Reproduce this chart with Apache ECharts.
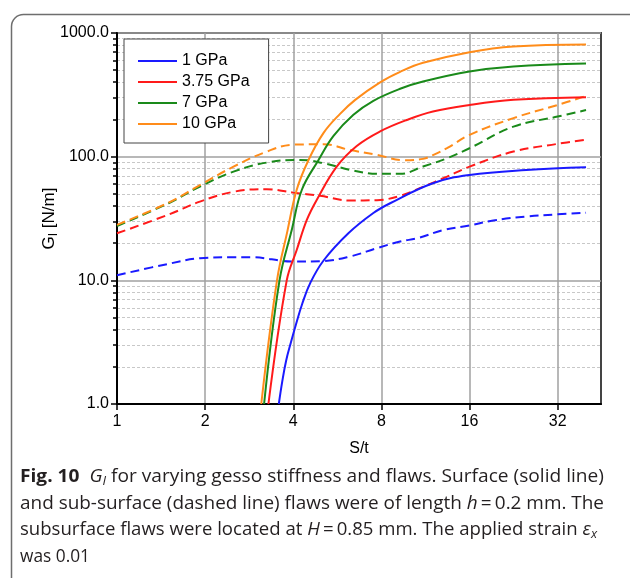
<!DOCTYPE html>
<html><head><meta charset="utf-8">
<script src="https://cdn.jsdelivr.net/npm/echarts@6/dist/echarts.min.js"></script>
<style>
html,body{margin:0;padding:0;background:#fff;}
#wrap{position:relative;width:630px;height:578px;overflow:hidden;}
#chart{position:absolute;left:0;top:0;width:630px;height:578px;}
#caption{position:absolute;left:20px;top:462px;font-family:"Open Sans",sans-serif;font-size:17.5px;line-height:26.6px;color:#231f20;}
.ln{white-space:nowrap;display:block;width:max-content;transform-origin:0 50%;}
sub{font-size:12px;vertical-align:-3px;line-height:0;}
</style></head>
<body>
<div id="wrap">
<div id="chart"></div>
<div id="caption">
<div class="ln" data-w="584"><b>Fig. 10</b>&nbsp; <i>G</i><sub><i>I</i></sub> for varying gesso stiffness and flaws. Surface (solid line)</div>
<div class="ln" data-w="584">and sub-surface (dashed line) flaws were of length <i>h</i>&#8201;=&#8201;0.2 mm. The</div>
<div class="ln" data-w="577">subsurface flaws were located at <i>H</i>&#8201;=&#8201;0.85 mm. The applied strain <i>ε</i><sub><i>x</i></sub></div>
<div class="ln" data-w="70">was 0.01</div>
</div>
</div>
<script>
// ---- data (S/t , G_I in N/m) ----
const seriesNames = ['1 GPa', '3.75 GPa', '7 GPa', '10 GPa'];
const seriesColors = ['#1a1aff', '#ff1a1a', '#1a8a1a', '#ff8c1a'];

// surface flaws (solid)
const surf1 = [[3.57,1],[3.67,1.53],[3.78,2.23],[3.93,3.17],[4.09,4.44],[4.29,6.44],[4.57,9.5],[5.07,14.4],[6.17,24],[7.51,35],[8.57,42],[12,61],[16,71],[25,78],[40,82]];
const surf375 = [[3.29,1],[3.8,10],[4.11,17.6],[4.45,30.8],[4.81,44.7],[5.63,83],[6.59,122],[7.92,160],[9.77,198],[12,232],[16,262],[22.6,288],[40,303]];
const surf7 = [[3.18,1],[3.59,10],[3.96,26],[4.28,54],[4.88,94],[5.49,147],[6.42,218],[7.51,283],[9.27,354],[11.1,405],[16,488],[22.6,536],[40,567]];
const surf10 = [[3.11,1],[3.52,10],[3.82,25],[4.11,54],[4.51,94],[5.07,155],[5.78,222],[6.51,288],[7.92,399],[9.27,485],[11.1,574],[16,700],[22.6,778],[40,807]];

// sub-surface flaws (dashed)
const sub1 = [[1,11],[1.5,13.6],[1.92,15.1],[2.53,15.4],[2.85,15.4],[4,14.2],[5,14.3],[6.26,15.6],[7.72,18.2],[9.27,20.6],[10.7,22],[13,25.5],[16,27.8],[19.3,30.5],[25,32.8],[32,34.2],[40,35.2]];
const sub375 = [[1,24],[1.5,34],[1.92,43.3],[2.5,52],[3.25,54.6],[4,51.2],[4.94,48.2],[6.26,44.2],[7.72,44.5],[9.27,48.2],[11.1,57],[13.4,69],[16,83],[22.6,110],[32,127],[40,137]];
const sub7 = [[1,27.5],[1.5,42],[1.92,57.3],[2.5,75.7],[3.25,89.6],[4.22,94.2],[5.07,88.6],[6.26,78.2],[7.72,72.6],[9.27,72.6],[11.1,83.2],[13.4,97],[16,117],[22.6,175],[32,211],[40,238]];
const sub10 = [[1,28.1],[1.5,42.5],[1.92,59],[2.5,83],[3.25,110],[4,125],[5.07,126],[6.26,113],[7.72,103.5],[9.59,93.5],[11.1,96],[12,103],[13.4,117],[16,150],[22.6,205],[32,262],[40,310]];

const surfData = [surf1, surf375, surf7, surf10];
const subData = [sub1, sub375, sub7, sub10];

// ticks
const xTicks = [1, 2, 4, 8, 16, 32];
const yMinorTicks = [2,3,4,5,6,7,8,9,20,30,40,50,60,70,80,90,200,300,400,500,600,700,800,900];

const FONT = '"Liberation Sans", Arial, sans-serif';
const chart = echarts.init(document.getElementById('chart'));

const series = [];
surfData.forEach((d, i) => series.push({
  name: seriesNames[i], type: 'line', data: d, showSymbol: false, symbol: 'none',
  smooth: 0.4, xAxisIndex: 0, yAxisIndex: 0,
  lineStyle: { color: seriesColors[i], width: 2 }, itemStyle: { color: seriesColors[i] },
  z: 3
}));
subData.forEach((d, i) => series.push({
  name: seriesNames[i] + ' sub', type: 'line', data: d, showSymbol: false, symbol: 'none',
  smooth: 0.4, xAxisIndex: 0, yAxisIndex: 0,
  lineStyle: { color: seriesColors[i], width: 2, type: [9, 5] }, itemStyle: { color: seriesColors[i] },
  z: 2
}));

chart.setOption({
  animation: false,
  backgroundColor: '#fff',
  textStyle: { fontFamily: FONT },
  graphic: [{
    type: 'rect', left: 9, top: 12, z: 0,
    shape: { width: 640, height: 590, r: 12 },
    style: { fill: 'none', stroke: '#6e6e6e', lineWidth: 1.5 }
  }],
  grid: { left: 117, top: 33, right: 29, bottom: 174, show: true, borderColor: '#444', borderWidth: 2, backgroundColor: 'transparent' },
  legend: {
    data: seriesNames, orient: 'vertical', left: 124, top: 39,
    icon: 'rect', itemWidth: 39, itemHeight: 2, itemGap: 5,
    padding: [14, 19, 11, 14], borderColor: '#444', borderWidth: 1, backgroundColor: '#fff',
    selectedMode: false,
    textStyle: { fontSize: 16, fontFamily: FONT, color: '#000' }
  },
  xAxis: {
    type: 'log', logBase: 2, min: 1, max: 45,
    axisLine: { lineStyle: { color: '#000', width: 2 } },
    axisTick: { customValues: xTicks, length: 6, lineStyle: { color: '#000', width: 1.5 } },
    axisLabel: { customValues: xTicks, fontSize: 16, color: '#000', fontFamily: FONT, margin: 10,
      formatter: v => String(Math.round(v)) },
    splitLine: { show: true, lineStyle: { color: '#a0a0a0', width: 1.5 } },
    name: 'S/t', nameLocation: 'middle', nameGap: 37, nameMoveOverlap: false,
    nameTextStyle: { fontSize: 16, color: '#000', fontFamily: FONT }
  },
  yAxis: [{
    type: 'log', logBase: 10, min: 1, max: 1000,
    axisLine: { lineStyle: { color: '#000', width: 2 } },
    axisTick: { length: 6, lineStyle: { color: '#000', width: 1.5 } },
    axisLabel: { fontSize: 16, color: '#000', fontFamily: FONT, margin: 8,
      formatter: v => Number(v).toFixed(1) },
    splitLine: { show: true, lineStyle: { color: '#a0a0a0', width: 1.5 } },
    name: '{g|G}{s|I}{g| [N/m]}', nameLocation: 'middle', nameGap: 57, nameRotate: 90, nameMoveOverlap: false,
    nameTextStyle: { fontSize: 17, color: '#000', fontFamily: FONT,
      rich: { g: { fontSize: 17, lineHeight: 22, verticalAlign: 'middle', fontFamily: FONT, color: '#000' },
              s: { fontSize: 12, lineHeight: 12, verticalAlign: 'bottom', fontFamily: FONT, color: '#000' } } }
  }, {
    type: 'log', logBase: 10, min: 1, max: 1000, position: 'left',
    axisLine: { show: false },
    axisLabel: { show: false },
    axisTick: { customValues: yMinorTicks, length: 4, lineStyle: { color: '#000', width: 1.5 } },
    splitLine: { show: true, lineStyle: { color: '#c8c8c8', width: 1, type: [3, 2] } }
  }],
  series: series
});

// fit caption lines to the reference widths
document.querySelectorAll('#caption .ln[data-w]').forEach(el => {
  const w = el.getBoundingClientRect().width;
  const target = +el.dataset.w;
  if (w > 0) el.style.transform = 'scaleX(' + (target / w) + ')';
});
</script>
</body></html>
